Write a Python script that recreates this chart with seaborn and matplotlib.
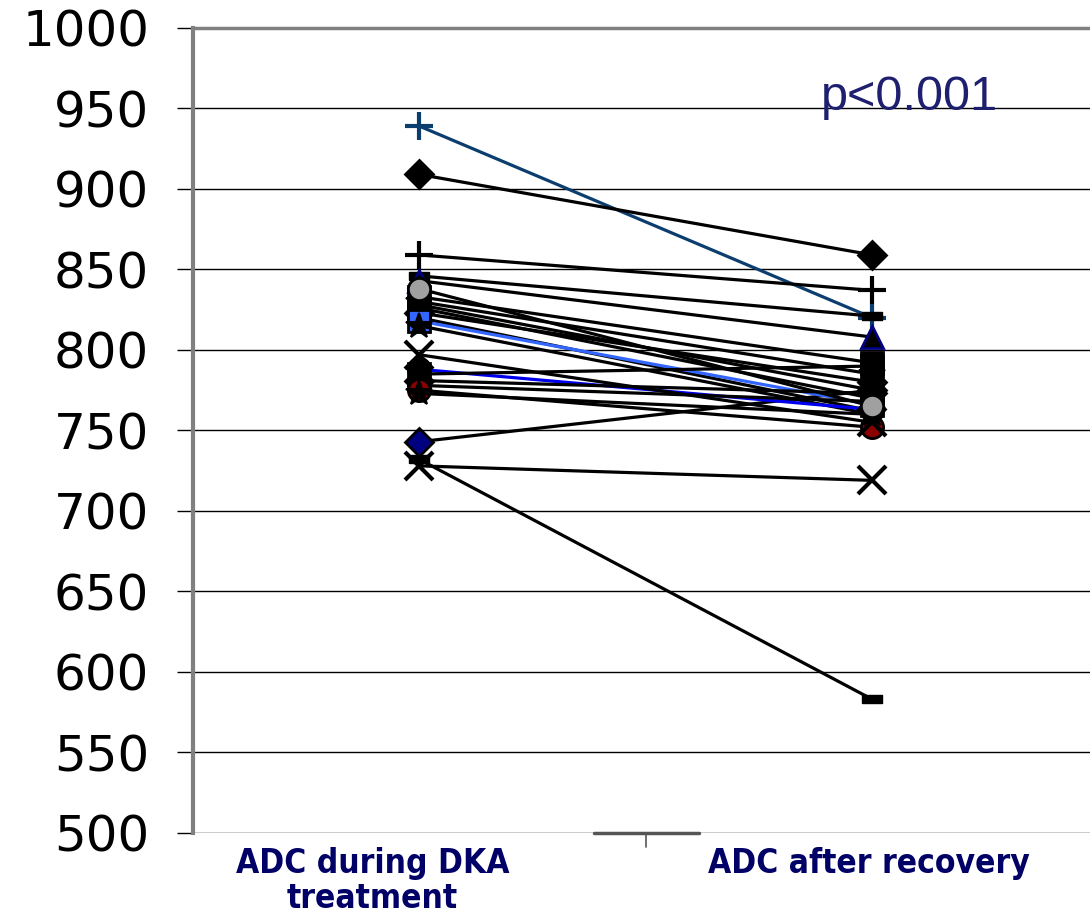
import matplotlib
matplotlib.use("Agg")
import matplotlib.pyplot as plt
import seaborn as sns
import pandas as pd

# ADC values per patient: during DKA treatment / after recovery
categories = ["ADC during DKA\ntreatment", "ADC after recovery"]
adc_during = [939, 909, 859, 846, 843, 838, 833, 830, 828, 826, 823, 820,
              818, 815, 797, 788, 785, 781, 778, 775, 773, 743, 728, 732]
adc_after = [820, 859, 837, 821, 808, 765, 792, 785, 775, 770, 780, 762,
             766, 760, 755, 763, 790, 773, 768, 752, 760, 775, 719, 583]
p_label = "p<0.001"

DASH = [(-1, -0.4), (1, -0.4), (1, 0.4), (-1, 0.4), (-1, -0.4)]

# marker, line colour, marker face, marker edge, layer
styles = [
    ("+", "#0b3d6e", "#0b3d6e", "#0b3d6e", 3),
    ("D", "black", "black", "black", 3),
    ("+", "black", "black", "black", 3),
    (DASH, "black", "black", "black", 3),
    ("^", "black", "black", "#000080", 3),
    ("o", "black", "#a0a0a0", "black", 5),
    ("s", "black", "black", "black", 3),
    ("*", "black", "black", "black", 3),
    ("o", "black", "black", "black", 3),
    ("s", "black", "black", "black", 3),
    ("D", "black", "black", "black", 3),
    ("*", "black", "black", "black", 3),
    ("s", "#3366ff", "#3366ff", "black", 3),
    ("*", "black", "black", "black", 3),
    ("x", "black", "black", "black", 3.5),
    ("o", "#0000ee", "black", "black", 3),
    ("s", "black", "black", "black", 3),
    ("D", "black", "black", "black", 3),
    ("o", "black", "black", "black", 3),
    ("o", "black", "#8b0000", "black", 3),
    ("*", "black", "black", "black", 3),
    ("D", "black", "#000080", "black", 2.5),
    ("x", "black", "black", "black", 3),
    (DASH, "black", "black", "black", 3),
]

sns.set_theme(style="white")
plt.rcParams["font.family"] = ["DejaVu Sans"]

fig = plt.figure(figsize=(10.9, 9.18), dpi=100)
ax = fig.add_axes([0.177, 0.0926, 0.831, 0.877])

xpos = list(range(len(categories)))
for i, (b, a) in enumerate(zip(adc_during, adc_after)):
    m, lc, mfc, mec, z = styles[i]
    df = pd.DataFrame({"x": xpos, "adc": [b, a]})
    if m in ("+", "x"):
        ms, mew = 20, 3
    elif m == "*":
        ms, mew = 19, 1.5
    elif isinstance(m, list):
        ms, mew = 15, 1
    elif m == "D":
        ms, mew = 14, 2
    else:
        ms, mew = 16, 2
    sns.lineplot(data=df, x="x", y="adc", ax=ax, color=lc, lw=2.3,
                 marker=m, markersize=ms, markerfacecolor=mfc,
                 markeredgecolor=mec, markeredgewidth=mew, zorder=z + i * 0.01)

ax.set_xlim(-0.5, 1.5)
ax.set_ylim(500, 1000)
ax.set_yticks(range(500, 1001, 50))
ax.set_xticks([])
ax.set_xlabel("")
ax.set_ylabel("")
ax.yaxis.grid(True, color="black", lw=1)
ax.set_axisbelow(True)

for s in ("right", "bottom"):
    ax.spines[s].set_visible(False)
ax.spines["left"].set_color("#808080")
ax.spines["left"].set_linewidth(3)
ax.spines["top"].set_color("#808080")
ax.spines["top"].set_linewidth(2.5)

ax.tick_params(axis="y", which="major", left=True, length=11.5, width=1,
               color="black", pad=20, labelsize=36, labelcolor="black")

# short piece of category axis with the middle tick
ax.plot([0.386, 0.618], [500, 500], color="#555555", lw=2.5, clip_on=False)
ax.plot([0.5, 0.5], [500, 491.3], color="#555555", lw=1.2, clip_on=False)

label_x = [-0.104, 0.993]
for lx, lab in zip(label_x, categories):
    ax.text(lx, 491.5, lab, ha="center", va="top", fontsize=24,
            fontweight="bold", fontstretch="condensed", color="#000066",
            linespacing=1.08, family=["DejaVu Sans"], clip_on=False)

ax.text(0.887, 949, p_label, ha="left", va="baseline", fontsize=35,
        color="#1f1f70", family=["Liberation Sans", "DejaVu Sans"])

fig.savefig("out.png", dpi=100, facecolor="white")
